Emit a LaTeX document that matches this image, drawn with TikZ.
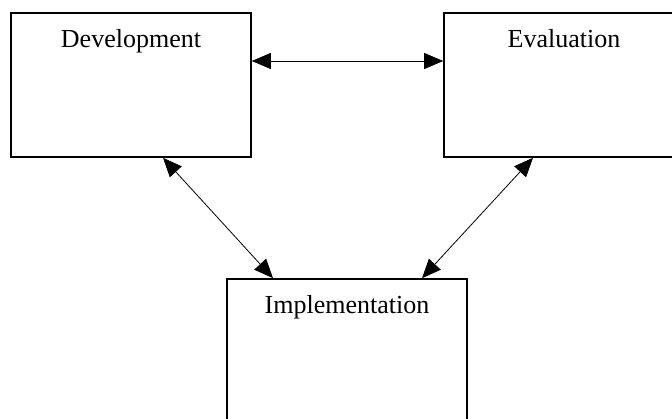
\documentclass[tikz,border=0pt]{standalone}
\usepackage{fontspec}
\setmainfont{Liberation Serif}
\usetikzlibrary{arrows.meta}

\begin{document}
\begin{tikzpicture}[x=1pt, y=1pt,
  stage/.style={draw, line width=1.6pt, minimum width=240pt, minimum height=144pt, inner sep=0pt},
  stagetext/.style={anchor=base, yshift=-35pt, inner sep=0pt, font=\fontsize{26}{30}\selectfont},
  link/.style={line width=0.8pt, {Triangle[length=19pt,width=16pt]}-{Triangle[length=19pt,width=16pt]}}]
  \clip (0,0) rectangle (672,418);

  % Boxes
  \node[stage, label={[stagetext, name=devtxt]north:Development}] (dev) at (131,333) {};
  \node[stage, label={[stagetext, name=evaltxt]north:Evaluation}] (eval) at (564,333) {};
  \node[stage, label={[stagetext, name=impltxt]north:Implementation}] (impl) at (347,67) {};

  % Links between the stages
  \draw[link] ([yshift=24pt]dev.east) -- ([yshift=24pt]eval.west);
  \draw[link] ([xshift=32pt]dev.south) -- ([xshift=-74pt]impl.north);
  \draw[link] ([xshift=-31pt]eval.south) -- ([xshift=75pt]impl.north);
\end{tikzpicture}
\end{document}
